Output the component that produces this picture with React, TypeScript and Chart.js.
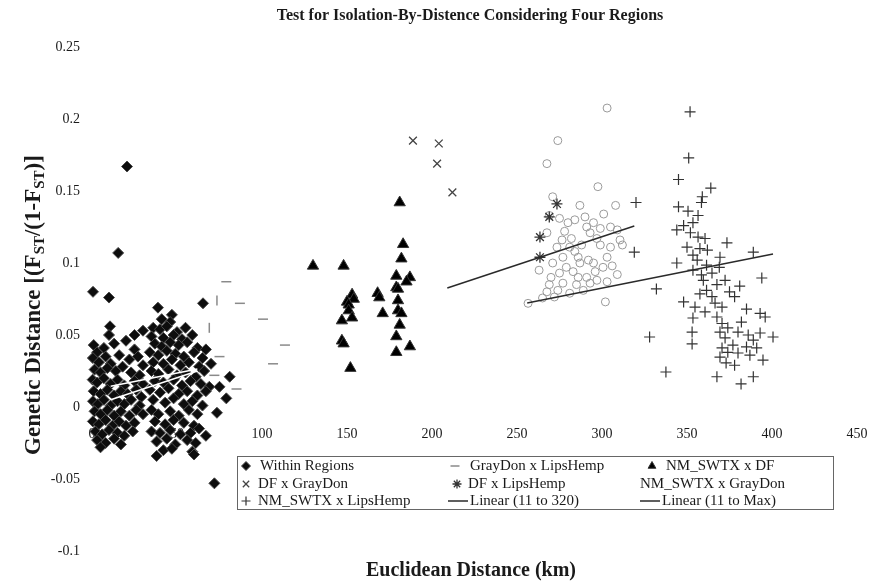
import React, { useEffect, useRef } from "react";
import { Chart, registerables } from "chart.js";
import { drawPoint } from "chart.js/helpers";
Chart.register(...registerables);

type P = [number, number];

const TITLE = "Test for Isolation-By-Distence Considering Four Regions";
const X_TITLE = "Euclidean Distance (km)";
const Y_TITLE_PARTS: [string, boolean][] = [
  ["Genetic Distance [(F", false],
  ["ST", true],
  ["/(1-F", false],
  ["ST", true],
  [")]", false],
];

const X_TICKS = [0, 50, 100, 150, 200, 250, 300, 350, 400, 450];
const Y_TICKS = [-0.1, -0.05, 0, 0.05, 0.1, 0.15, 0.2, 0.25];
const Y_TICK_LABELS = ["-0.1", "-0.05", "0", "0.05", "0.1", "0.15", "0.2", "0.25"];

const LEGEND_LABELS = [
  "Within Regions",
  "GrayDon x LipsHemp",
  "NM_SWTX x DF",
  "DF x GrayDon",
  "DF x LipsHemp",
  "NM_SWTX x GrayDon",
  "NM_SWTX x LipsHemp",
  "Linear (11 to 320)",
  "Linear (11 to Max)",
];

// Within Regions (km, Fst/(1-Fst))
const withinRegions: P[] = [
  [20.6, 0.167], [15.4, 0.107], [0.6, 0.08], [10, 0.076], [38.8, 0.069], [65.3, 0.072],
  [72, -0.053], [38, -0.034], [10.6, 0.056], [10, 0.05], [47, 0.064], [25, 0.05], [30, 0.053],
  [1, 0.043], [3, 0.038], [7, 0.041], [13, 0.044], [20, 0.046], [25, 0.04],
  [0.5, 0.034], [4, 0.031], [8, 0.035], [11, 0.03], [16, 0.036], [22, 0.033], [27, 0.035], [30, 0.029],
  [1.5, 0.026], [5, 0.024], [9, 0.027], [14, 0.025], [18, 0.028], [23, 0.024], [28, 0.022],
  [0.4, 0.019], [3, 0.017], [7, 0.02], [11, 0.016], [15, 0.019], [19, 0.015], [25, 0.018], [30, 0.016],
  [1, 0.011], [5, 0.009], [9, 0.012], [13, 0.008], [17, 0.011], [21, 0.009], [26, 0.012], [29, 0.007],
  [0.6, 0.004], [3.5, 0.002], [7, 0.005], [11, 0.001], [15, 0.004], [19, 0.002], [23, 0.005], [28, 0.001],
  [1.5, -0.003], [5, -0.005], [9, -0.002], [13, -0.006], [17, -0.003], [22, -0.006], [26, -0.002], [30, -0.005],
  [0.5, -0.01], [4, -0.012], [8, -0.009], [12, -0.013], [16, -0.01], [20, -0.013], [25, -0.011],
  [2, -0.017], [6, -0.019], [10, -0.016], [15, -0.018], [19, -0.02], [24, -0.017],
  [3, -0.023], [8, -0.025], [13, -0.022], [17, -0.026], [5, -0.028],
  [41, 0.061], [46, 0.059], [36, 0.055], [40, 0.054], [44, 0.056], [50, 0.052], [55, 0.055],
  [35, 0.049], [42, 0.048], [48, 0.05], [53, 0.047], [59, 0.05],
  [37, 0.044], [41, 0.042], [46, 0.045], [51, 0.043], [56, 0.045], [62, 0.041], [67, 0.04],
  [34, 0.038], [39, 0.036], [44, 0.039], [49, 0.037], [54, 0.035], [60, 0.038], [65, 0.034],
  [36, 0.031], [42, 0.03], [47, 0.033], [52, 0.029], [57, 0.031], [63, 0.028],
  [35, 0.025], [39, 0.023], [45, 0.026], [50, 0.022], [55, 0.024], [61, 0.021], [66, 0.025],
  [37, 0.018], [42, 0.017], [48, 0.019], [53, 0.015], [58, 0.018], [64, 0.016], [69, 0.014],
  [34, 0.012], [40, 0.01], [45, 0.013], [51, 0.009], [56, 0.011], [62, 0.008], [67, 0.011],
  [36, 0.005], [43, 0.003], [48, 0.006], [54, 0.002], [59, 0.004], [65, 0.001],
  [35, -0.002], [39, -0.005], [46, -0.003], [51, -0.006], [57, -0.002], [62, -0.005],
  [37, -0.01], [43, -0.012], [48, -0.009], [54, -0.011], [60, -0.013],
  [35, -0.017], [40, -0.018], [46, -0.016], [52, -0.019], [58, -0.018], [63, -0.015],
  [38, -0.024], [44, -0.022], [49, -0.026], [56, -0.023], [61, -0.025],
  [42, -0.03], [47, -0.029], [59, -0.031], [60, -0.033],
  [75, 0.014], [79, 0.006], [73.5, -0.004], [81, 0.021], [70, 0.03], [67, -0.02],
];

const grayDonLipsHemp: P[] = [
  [79, 0.087], [73.5, 0.074], [87, 0.072], [100.6, 0.061], [69, 0.055],
  [113.5, 0.043], [75, 0.035], [106.5, 0.03], [72, 0.022], [85, 0.0125],
];

const nmSwtxDf: P[] = [
  [130, 0.098], [148, 0.098], [181, 0.142], [183, 0.113], [182, 0.103], [179, 0.091],
  [187, 0.09], [185, 0.087], [179, 0.083], [180, 0.082], [153, 0.078], [154, 0.075],
  [150, 0.073], [151, 0.071], [168, 0.079], [169, 0.076], [180, 0.074], [171, 0.065],
  [180, 0.067], [182, 0.065], [151, 0.067], [153, 0.062], [147, 0.06], [181, 0.057],
  [179, 0.049], [147, 0.046], [148, 0.044], [179, 0.038], [187, 0.042], [152, 0.027],
];

const dfGrayDon: P[] = [
  [188.8, 0.185], [204, 0.183], [203, 0.169], [212, 0.149],
];

const dfLipsHemp: P[] = [
  [263.5, 0.104], [263.5, 0.118], [269, 0.132], [273.5, 0.141],
];

const nmSwtxGrayDon: P[] = [
  [303, 0.2076], [274, 0.185], [267.6, 0.169], [297.6, 0.153],
  [271, 0.146], [287, 0.14], [308, 0.14], [269, 0.133], [275, 0.131], [280, 0.128],
  [290, 0.132], [295, 0.128], [299, 0.124], [305, 0.125], [309, 0.123], [267.6, 0.121],
  [276.5, 0.116], [282, 0.117], [293, 0.121], [297, 0.117], [310.6, 0.116], [273.5, 0.111],
  [281, 0.111], [288, 0.1125], [299, 0.1125], [305, 0.111], [312, 0.1125], [277, 0.104],
  [286, 0.104], [292, 0.102], [303, 0.104], [271, 0.1], [279, 0.097], [287, 0.1],
  [295, 0.1], [300.6, 0.097], [275, 0.093], [283, 0.094], [291, 0.09], [297, 0.088],
  [309, 0.092], [269, 0.085], [277, 0.086], [285, 0.085], [293, 0.086], [303, 0.087],
  [267.6, 0.08], [274, 0.081], [281, 0.079], [289, 0.081], [265, 0.0757], [272, 0.0764],
  [302, 0.073], [256.5, 0.072], [284, 0.108], [291, 0.125], [278, 0.122], [270, 0.09],
  [296, 0.094], [286, 0.09], [263, 0.095], [306, 0.098], [284, 0.13], [301, 0.134],
];

const nmSwtxLipsHemp: P[] = [
  [351.8, 0.205], [351, 0.173], [345, 0.158], [364, 0.152], [359, 0.146], [358.5, 0.142],
  [345, 0.139], [350.6, 0.136], [356.5, 0.133], [348, 0.126], [344, 0.123], [353.5, 0.128],
  [352, 0.121], [356.5, 0.118], [360.6, 0.117], [373.5, 0.114], [350, 0.111], [357.6, 0.11],
  [362, 0.109], [389, 0.1075], [353.5, 0.1055], [369.4, 0.104], [356, 0.102], [344, 0.1],
  [361.5, 0.0985], [369, 0.097], [353.5, 0.095], [358.5, 0.0917], [364.7, 0.093], [394, 0.0896],
  [359.6, 0.088], [372.4, 0.088], [332, 0.082], [381, 0.084], [367.6, 0.085], [361.5, 0.081],
  [375, 0.08], [357.6, 0.0785], [364.7, 0.0766], [378, 0.0766], [348, 0.073], [366.5, 0.0722],
  [354.7, 0.0694], [370.6, 0.0694], [385, 0.068], [360.6, 0.066], [353.5, 0.0618], [367.6, 0.0625],
  [393, 0.065], [396, 0.0625], [382, 0.059], [370.6, 0.058], [374, 0.055], [353, 0.052],
  [369.4, 0.052], [380, 0.052], [386, 0.05], [393, 0.0514], [400.6, 0.0486], [328, 0.0486],
  [372.4, 0.048], [389, 0.0465], [353, 0.0438], [377, 0.043], [385, 0.0417], [370.6, 0.041],
  [391, 0.041], [374, 0.038], [380, 0.0375], [369.4, 0.0347], [387, 0.036], [394.7, 0.0326],
  [373, 0.0306], [378, 0.029], [337.6, 0.0243], [367.6, 0.021], [389, 0.021], [381.8, 0.016],
  [320, 0.142], [319, 0.1075],
];

const linear11to320: P[] = [[11, 0.005], [62, 0.025], [209, 0.0826], [319, 0.1257]];
const linear11toMax: P[] = [[11, 0.0144], [62, 0.0264], [256, 0.0722], [400.6, 0.1063]];

const SERIF = "'Liberation Serif', 'Times New Roman', serif";
const INK = "#1a1a1a";
const LINE_SEG = ["#ffffff", "rgba(0,0,0,0)", "#2a2a2a"];

const toXY = (a: P[]) => a.map(([x, y]) => ({ x, y }));

type LegendEntry = { ds: number; mx: number; tx: number; row: number; line?: boolean; noMarker?: boolean };
const LEGEND_ROWS = [466, 484, 501];
const LEGEND_LAYOUT: LegendEntry[] = [
  { ds: 0, mx: 246, tx: 260, row: 0 },
  { ds: 1, mx: 455, tx: 470, row: 0 },
  { ds: 2, mx: 652, tx: 666, row: 0 },
  { ds: 3, mx: 246, tx: 258, row: 1 },
  { ds: 4, mx: 457, tx: 468, row: 1 },
  { ds: 5, mx: 632, tx: 640, row: 1, noMarker: true },
  { ds: 6, mx: 246, tx: 258, row: 2 },
  { ds: 7, mx: 448, tx: 470, row: 2, line: true },
  { ds: 8, mx: 640, tx: 662, row: 2, line: true },
];

const overlayPlugin = {
  id: "overlay",
  afterDraw(chart: any) {
    const ctx: CanvasRenderingContext2D = chart.ctx;
    ctx.save();
    ctx.fillStyle = INK;
    ctx.textAlign = "center";
    ctx.textBaseline = "middle";
    ctx.font = `bold 16px ${SERIF}`;
    ctx.fillText(TITLE, 470, 16);
    ctx.font = `bold 20px ${SERIF}`;
    ctx.fillText(X_TITLE, 471, 571);

    // y title with subscripts
    const big = `bold 23px ${SERIF}`;
    const small = `bold 15px ${SERIF}`;
    let total = 0;
    for (const [t, sub] of Y_TITLE_PARTS) {
      ctx.font = sub ? small : big;
      total += ctx.measureText(t).width;
    }
    ctx.save();
    ctx.translate(34, 305);
    ctx.rotate(-Math.PI / 2);
    ctx.textAlign = "left";
    let x = -total / 2;
    for (const [t, sub] of Y_TITLE_PARTS) {
      ctx.font = sub ? small : big;
      ctx.fillText(t, x, sub ? 6 : 0);
      x += ctx.measureText(t).width;
    }
    ctx.restore();

    // legend box
    ctx.fillStyle = "#ffffff";
    ctx.fillRect(237, 456, 596, 53);
    ctx.strokeStyle = "#666";
    ctx.lineWidth = 1;
    ctx.strokeRect(237.5, 456.5, 596, 53);
    ctx.font = `15px ${SERIF}`;
    ctx.textAlign = "left";
    for (const e of LEGEND_LAYOUT) {
      const y = LEGEND_ROWS[e.row];
      const ds = chart.data.datasets[e.ds];
      if (e.line) {
        ctx.strokeStyle = "#2a2a2a";
        ctx.lineWidth = 1.5;
        ctx.beginPath();
        ctx.moveTo(e.mx, y);
        ctx.lineTo(e.mx + 20, y);
        ctx.stroke();
      } else if (!e.noMarker) {
        ctx.fillStyle = ds.backgroundColor;
        ctx.strokeStyle = ds.borderColor;
        ctx.lineWidth = ds.borderWidth;
        drawPoint(ctx, {
          pointStyle: ds.pointStyle,
          radius: Math.min(ds.pointRadius, 4.5),
          rotation: 0,
          borderWidth: ds.borderWidth,
        } as any, e.mx, y);
      }
      ctx.fillStyle = INK;
      ctx.fillText(LEGEND_LABELS[e.ds], e.tx, y);
    }
    ctx.restore();
  },
};

export default function App() {
  const ref = useRef<HTMLCanvasElement>(null);
  useEffect(() => {
    if (!ref.current) return;
    const chart = new Chart(ref.current, {
      type: "scatter",
      data: {
        datasets: [
          {
            label: LEGEND_LABELS[0], data: toXY(withinRegions), pointStyle: "rectRot", pointRadius: 5.5,
            backgroundColor: "#0d0d0d", borderColor: "#4a4a4a", borderWidth: 1, order: 2, clip: false,
          },
          {
            label: LEGEND_LABELS[1], data: toXY(grayDonLipsHemp), pointStyle: "line", pointRadius: 5,
            backgroundColor: "#8a8a8a", borderColor: "#8a8a8a", borderWidth: 1.5, order: 3, clip: false,
            pointRotation: (c: any) => ([1, 4].includes(c.dataIndex) ? 90 : 0),
          },
          {
            label: LEGEND_LABELS[2], data: toXY(nmSwtxDf), pointStyle: "triangle", pointRadius: 6.5,
            backgroundColor: "#000", borderColor: "#333", borderWidth: 1, order: 3, clip: false,
          },
          {
            label: LEGEND_LABELS[3], data: toXY(dfGrayDon), pointStyle: "crossRot", pointRadius: 5.5,
            backgroundColor: "#444", borderColor: "#444", borderWidth: 1.3, order: 3, clip: false,
          },
          {
            label: LEGEND_LABELS[4], data: toXY(dfLipsHemp), pointStyle: "star", pointRadius: 5.5,
            backgroundColor: "#333", borderColor: "#333", borderWidth: 1.3, order: 3, clip: false,
          },
          {
            label: LEGEND_LABELS[5], data: toXY(nmSwtxGrayDon), pointStyle: "circle", pointRadius: 4,
            backgroundColor: "rgba(0,0,0,0)", borderColor: "#9a9a9a", borderWidth: 1, order: 3, clip: false,
          },
          {
            label: LEGEND_LABELS[6], data: toXY(nmSwtxLipsHemp), pointStyle: "cross", pointRadius: 5.5,
            backgroundColor: "#333", borderColor: "#333", borderWidth: 1.2, order: 3, clip: false,
          },
          {
            label: LEGEND_LABELS[7], data: toXY(linear11to320), showLine: true, pointRadius: 0,
            borderColor: "#2a2a2a", borderWidth: 1.5, order: 0, clip: false,
            segment: { borderColor: (c: any) => LINE_SEG[c.p0DataIndex] },
          },
          {
            label: LEGEND_LABELS[8], data: toXY(linear11toMax), showLine: true, pointRadius: 0,
            borderColor: "#2a2a2a", borderWidth: 1.5, order: 0, clip: false,
            segment: { borderColor: (c: any) => LINE_SEG[c.p0DataIndex] },
          },
        ] as any,
      },
      options: {
        animation: false,
        responsive: false,
        devicePixelRatio: 1,
        events: [],
        layout: { padding: { top: 47, right: 22, bottom: 34, left: 0 } },
        plugins: { legend: { display: false }, title: { display: false }, tooltip: { enabled: false } },
        scales: {
          x: {
            type: "linear",
            min: 0,
            max: 450,
            position: { y: 0 } as any,
            grid: { display: false, drawTicks: true, tickLength: 17 },
            border: { display: false },
            afterBuildTicks: (s: any) => { s.ticks = X_TICKS.map((v) => ({ value: v })); },
            ticks: {
              color: INK,
              padding: 2,
              font: { family: SERIF, size: 14 },
              maxRotation: 0,
              callback: (v: any) => String(v),
            },
          },
          y: {
            type: "linear",
            min: -0.1,
            max: 0.25,
            position: "left",
            grid: { display: false, drawTicks: false },
            border: { display: false },
            afterBuildTicks: (s: any) => { s.ticks = Y_TICKS.map((v) => ({ value: v })); },
            afterFit: (s: any) => { s.width = 92; },
            ticks: {
              color: INK,
              padding: 12,
              font: { family: SERIF, size: 14 },
              callback: (v: any) => {
                const i = Y_TICKS.findIndex((t) => Math.abs(t - v) < 1e-9);
                return i >= 0 ? Y_TICK_LABELS[i] : "";
              },
            },
          },
        },
      },
      plugins: [overlayPlugin],
    });
    return () => chart.destroy();
  }, []);
  return (
    <div style={{ position: "fixed", left: 0, top: 0, width: 879, height: 585, background: "#fff" }}>
      <canvas ref={ref} width={879} height={585} style={{ display: "block" }} />
    </div>
  );
}
